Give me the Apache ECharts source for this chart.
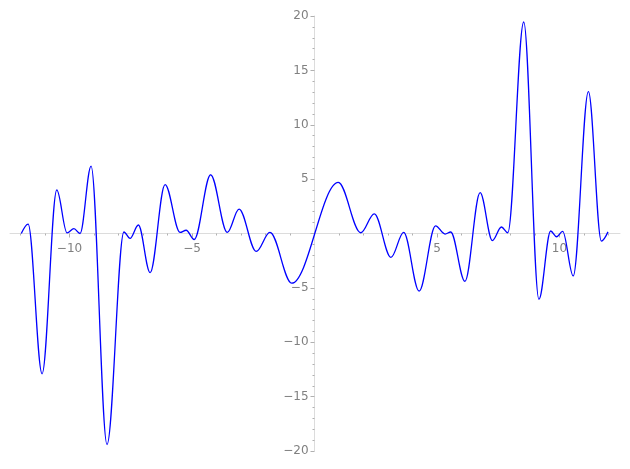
<!DOCTYPE html>
<html>
<head>
<meta charset="utf-8">
<script src="https://cdn.jsdelivr.net/npm/echarts@6/dist/echarts.min.js"></script>
<style>html,body{margin:0;padding:0;background:#fff;}#c{width:630px;height:469px;}</style>
</head>
<body>
<div id="c"></div>
<script>
// Curve turning points (x, y)
const curveX = [-11.97, -11.69, -11.12, -10.52, -10.10, -9.82, -9.57, -9.12, -8.47, -7.78, -7.53, -7.19, -6.71, -6.10, -5.49, -5.24, -4.91, -4.24, -3.56, -3.08, -2.38, -1.82, -0.93, 0.97, 1.89, 2.44, 3.12, 3.64, 4.27, 4.94, 5.33, 5.56, 6.14, 6.76, 7.26, 7.63, 7.89, 8.54, 9.16, 9.64, 9.88, 10.13, 10.56, 11.18, 11.71, 11.98];
const curveY = [0.0, 0.87, -12.9, 4.0, 0.05, 0.44, 0.0, 6.2, -19.4, 0.14, -0.45, 0.78, -3.6, 4.5, 0.1, 0.3, -0.55, 5.4, 0.1, 2.25, -1.65, 0.1, -4.57, 4.7, 0.07, 1.8, -2.2, 0.1, -5.3, 0.7, -0.05, 0.14, -4.4, 3.75, -0.65, 0.6, 0.07, 19.45, -6.05, 0.23, -0.3, 0.2, -3.9, 13.05, -0.7, 0.15];
const xMinorTicks = [-12, -11, -9, -8, -7, -6, -4, -3, -2, -1, 0, 1, 2, 3, 4, 6, 7, 8, 9, 11, 12];
const xMajorTicks = [-10, -5, 5, 10];
const yLabels = [-20, -15, -10, -5, 5, 10, 15, 20];

const data = curveX.map((x, i) => [x, curveY[i]]);
const chart = echarts.init(document.getElementById('c'), null, {renderer: 'canvas'});
const labelStyle = {color: '#808080', fontFamily: 'DejaVu Sans', fontSize: 12};
const minus = v => String(v).replace('-', '\u2212');
const X_MIN = -12.43, X_MAX = 12.47;
const GRID = {left: 10, right: 10, top: 16, bottom: 18};
const H = 469 - GRID.top - GRID.bottom, W = 630 - GRID.left - GRID.right;
// axes cross at the origin: shift each axis inward from the grid edge to the zero value
const xOffset = -(H * (0 - (-20)) / 40);
const yOffset = -(W * (0 - X_MIN) / (X_MAX - X_MIN));
chart.setOption({
  animation: false,
  grid: Object.assign({containLabel: false, outerBoundsMode: 'none'}, GRID),
  xAxis: [{
    type: 'value', min: X_MIN, max: X_MAX, position: 'bottom', offset: xOffset,
    axisLine: {show: true, onZero: false, lineStyle: {color: '#dcdcdc', width: 1}},
    axisTick: {show: true, customValues: xMinorTicks, length: 2, lineStyle: {color: '#b0b0b0'}},
    axisLabel: {show: false},
    splitLine: {show: false}
  }, {
    type: 'value', min: X_MIN, max: X_MAX, position: 'bottom', offset: xOffset,
    axisLine: {show: false, onZero: false},
    axisTick: {show: true, customValues: xMajorTicks, length: 4, lineStyle: {color: '#b0b0b0'}},
    axisLabel: Object.assign({show: true, customValues: xMajorTicks, margin: 9, formatter: minus}, labelStyle),
    splitLine: {show: false}
  }],
  yAxis: {
    type: 'value', min: -20, max: 20, interval: 5, position: 'left', offset: yOffset,
    axisLine: {show: true, onZero: false, lineStyle: {color: '#dcdcdc', width: 1}},
    axisTick: {show: true, length: 4, lineStyle: {color: '#b0b0b0'}},
    minorTick: {show: true, splitNumber: 5, length: 2, lineStyle: {color: '#b0b0b0'}},
    axisLabel: Object.assign({show: true, customValues: yLabels, margin: 6, formatter: minus}, labelStyle),
    splitLine: {show: false},
    minorSplitLine: {show: false}
  },
  series: [{
    type: 'line', data: data, xAxisIndex: 0, yAxisIndex: 0,
    showSymbol: false, smooth: 0.35, smoothMonotone: 'x',
    lineStyle: {color: '#0000ff', width: 1.3}
  }]
});
</script>
</body>
</html>
